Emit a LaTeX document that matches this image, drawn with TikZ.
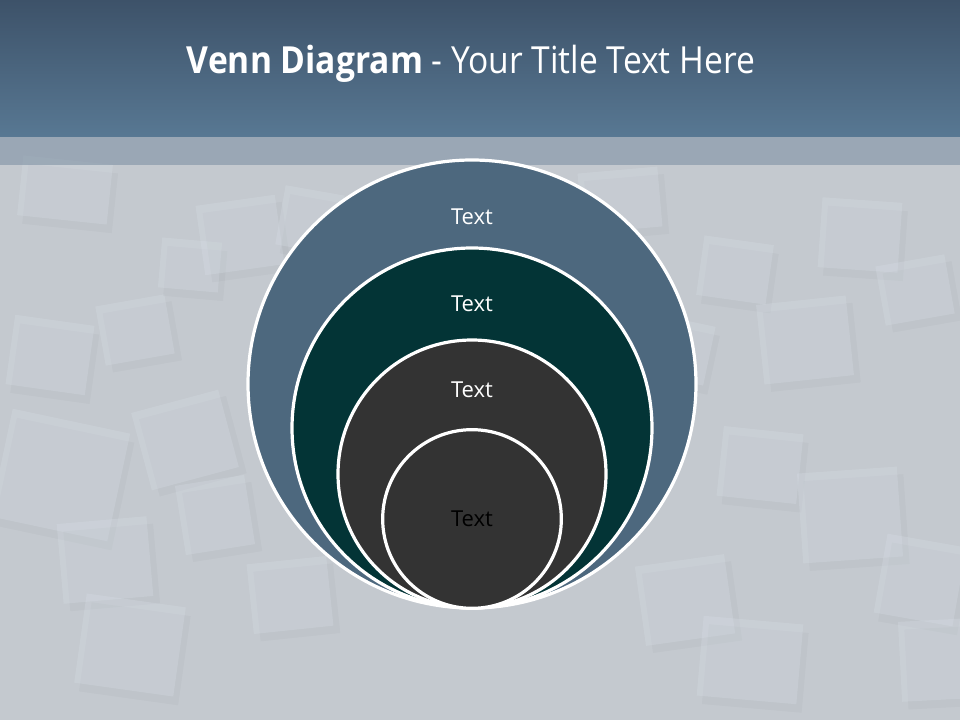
\documentclass[tikz,border=0pt]{standalone}
\usepackage{fontspec}
\setmainfont{Open Sans}
\newfontfamily\titlefont[FakeStretch=0.9]{Open Sans}
\begin{document}
\begin{tikzpicture}[x=0.75pt,y=-0.75pt,
  ring/.style={circle,draw=white,line width=2.4pt,inner sep=0pt},
  lbl/.style={font=\fontsize{16.5}{18}\selectfont,text=white},
  tile/.style={fill={rgb,255:red,215;green,222;blue,230},fill opacity=0.3},
  tiledark/.style={fill=black,fill opacity=0.025}]
\useasboundingbox (0,0) rectangle (960,720);
% background
\fill[color={rgb,255:red,196;green,201;blue,207}] (0,0) rectangle (960,720);
% tile pattern
\begin{scope}
\clip (0,137) rectangle (960,720);
\foreach \x/\y/\w/\h/\a in {
  10/320/80/70/-8, 0/420/120/110/-12, 100/300/70/60/10, 60/520/90/80/5,
  160/240/60/50/-5, 200/200/80/70/8, 280/190/60/60/-10, 140/400/90/80/15,
  700/240/70/60/-8, 760/300/90/80/6, 820/200/80/70/-4, 880/260/70/60/10,
  720/430/80/70/-6, 800/470/100/90/4, 880/540/80/80/-10, 640/560/90/80/8,
  700/620/100/80/-5, 80/600/100/90/-8, 250/560/80/70/6, 900/620/70/80/3,
  20/160/90/60/-6, 580/170/80/60/5, 650/320/60/60/-12, 180/480/70/70/9}
{
  \fill[tiledark,rotate around={\a:(\x+\w/2,\y+\h/2)}] (\x+6,\y+8) rectangle (\x+\w+6,\y+\h+8);
  \fill[tile,rotate around={\a:(\x+\w/2,\y+\h/2)}] (\x,\y) rectangle (\x+\w,\y+\h);
}
\end{scope}
% strip
\fill[color={rgb,255:red,120;green,140;blue,160},fill opacity=0.55] (0,137) rectangle (960,165);
% title bar
\shade[top color={rgb,255:red,61;green,82;blue,105},bottom color={rgb,255:red,88;green,120;blue,147}] (0,0) rectangle (960,137);
\node[font=\titlefont\fontsize{28}{30}\selectfont,text=white,anchor=base] (title) at (471,74)
  {\textbf{Venn Diagram} - Your Title Text Here};
% circles
\node[ring,minimum size=336pt,fill={rgb,255:red,77;green,104;blue,126}] (c1) at (472,384) {};
\node[ring,minimum size=270pt,fill={rgb,255:red,3;green,52;blue,54}] (c2) at (472,428) {};
\node[ring,minimum size=201pt,fill={rgb,255:red,51;green,51;blue,51}] (c3) at (472,474) {};
\node[ring,minimum size=134pt,fill={rgb,255:red,51;green,51;blue,51}] (c4) at (472,519) {};
% labels
\node[lbl] (t1) at (472,217) {Text};
\node[lbl] (t2) at (472,304) {Text};
\node[lbl] (t3) at (472,390) {Text};
\node[lbl,text=black] (t4) at (472,519) {Text};
\end{tikzpicture}
\end{document}
